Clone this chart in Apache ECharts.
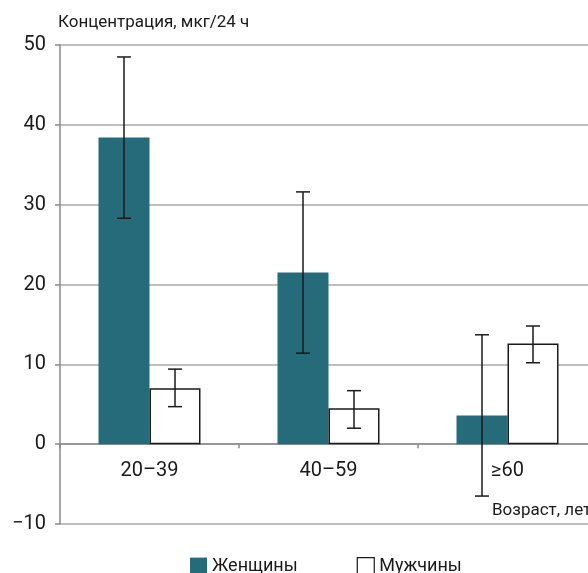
<!DOCTYPE html>
<html><head><meta charset="utf-8">
<script src="https://cdn.jsdelivr.net/npm/echarts@6/dist/echarts.min.js"></script>
<style>html,body{margin:0;padding:0;background:#fff;overflow:hidden}#c{width:600px;height:573px}</style>
</head><body><div id="c"></div>
<script>
const categories = ['20–39', '40–59', '≥60'];
const women = [38.4, 21.5, 3.6];
const men = [7.0, 4.5, 12.6];
const womenErrLow = [28.3, 11.4, -6.5];
const womenErrHigh = [48.5, 31.6, 13.7];
const menErrLow = [4.7, 2.0, 10.2];
const menErrHigh = [9.4, 6.7, 14.8];
const yTicks = [-10, 0, 10, 20, 30, 40, 50];

const FONT = 'Roboto';
const chart = echarts.init(document.getElementById('c'));

function errSeries(low, high, offset) {
  return {
    type: 'custom',
    z: 10,
    data: categories.map((c, i) => [i, low[i], high[i]]),
    renderItem: function (params, api) {
      const i = api.value(0);
      const lo = api.coord([i, api.value(1)]);
      const hi = api.coord([i, api.value(2)]);
      const x = lo[0] + offset;
      const cap = 7;
      const st = { stroke: '#1a1a1a', lineWidth: 1.5 };
      return {
        type: 'group',
        children: [
          { type: 'line', shape: { x1: x, y1: lo[1], x2: x, y2: hi[1] }, style: st },
          { type: 'line', shape: { x1: x - cap, y1: lo[1], x2: x + cap, y2: lo[1] }, style: st },
          { type: 'line', shape: { x1: x - cap, y1: hi[1], x2: x + cap, y2: hi[1] }, style: st }
        ]
      };
    }
  };
}

chart.setOption({
  animation: false,
  textStyle: { fontFamily: FONT },
  grid: { left: 60, right: 3, top: 45, bottom: 49, containLabel: false },
  legend: {
    left: 185, top: 552,
    itemWidth: 17, itemHeight: 17, itemGap: 59,
    textStyle: { fontSize: 18, color: '#1a1a1a', fontFamily: FONT },
    data: [
      { name: 'Женщины', icon: 'rect' },
      { name: 'Мужчины', icon: 'rect', itemStyle: { color: '#fff', borderColor: '#1a1a1a', borderWidth: 1.2 } }
    ]
  },
  xAxis: {
    type: 'category',
    data: categories,
    axisLine: { onZero: true, lineStyle: { color: '#8a8a8a', width: 1.5 } },
    axisTick: { show: true, length: 4, lineStyle: { color: '#8a8a8a', width: 1.5 } },
    axisLabel: { fontSize: 20, color: '#1a1a1a', margin: -63, fontFamily: FONT }
  },
  yAxis: {
    type: 'value',
    min: -10, max: 50, interval: 10,
    name: 'Концентрация, мкг/24 ч',
    nameLocation: 'end',
    nameGap: 14,
    nameTextStyle: { fontSize: 17, color: '#1a1a1a', align: 'left', padding: [0, 0, 0, -2], fontFamily: FONT },
    axisLine: { show: true, lineStyle: { color: '#8a8a8a', width: 1.5 } },
    axisTick: { show: true, length: 5, lineStyle: { color: '#8a8a8a', width: 1.5 } },
    axisLabel: {
      fontSize: 20, color: '#1a1a1a', margin: 14, fontFamily: FONT,
      formatter: v => (yTicks.includes(v) ? (v < 0 ? '−' + Math.abs(v) : String(v)) : '')
    },
    splitLine: { show: true, lineStyle: { color: '#a8a8a8', width: 1.5 } }
  },
  graphic: [
    { type: 'text', left: 492, top: 502, style: { text: 'Возраст, лет', fontSize: 17, fill: '#1a1a1a', fontFamily: FONT } }
  ],
  series: [
    {
      name: 'Женщины', type: 'bar', data: women, barWidth: 51, barGap: '0%',
      itemStyle: { color: '#266b7a' }
    },
    {
      name: 'Мужчины', type: 'bar', data: men, barWidth: 51,
      itemStyle: { color: '#fff', borderColor: '#1a1a1a', borderWidth: 1.5 }
    },
    errSeries(womenErrLow, womenErrHigh, -25.5),
    errSeries(menErrLow, menErrHigh, 25.5)
  ]
});
</script></body></html>
